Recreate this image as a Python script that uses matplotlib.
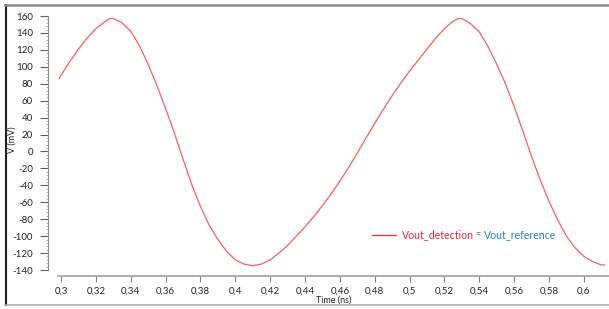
import matplotlib
matplotlib.use("Agg")
import matplotlib.pyplot as plt
from matplotlib.lines import Line2D
from matplotlib.ticker import FixedLocator, MultipleLocator, FuncFormatter

plt.rcParams['font.family'] = ['Lato', 'DejaVu Sans']

# time (ns) and voltage (mV)
time_ns = [0.299, 0.300, 0.305, 0.310, 0.315, 0.320, 0.325, 0.328, 0.330, 0.335,
           0.340, 0.345, 0.350, 0.355, 0.360, 0.365, 0.370, 0.375, 0.380, 0.385,
           0.390, 0.395, 0.400, 0.405, 0.410, 0.415, 0.420, 0.425, 0.430, 0.435,
           0.440, 0.445, 0.450, 0.455, 0.460, 0.465, 0.470, 0.475, 0.480, 0.485,
           0.490, 0.495, 0.500, 0.505, 0.510, 0.515, 0.520, 0.525, 0.528, 0.530,
           0.535, 0.540, 0.545, 0.550, 0.555, 0.560, 0.565, 0.570, 0.575, 0.580,
           0.585, 0.590, 0.595, 0.600, 0.605, 0.610, 0.612]
vout_mv = [86, 90, 106, 121, 134, 145, 153, 157, 157, 152,
           142, 125, 103, 78, 51, 22, -9, -39, -65, -87,
           -104, -118, -128, -133, -135, -133, -128, -120, -111, -100,
           -89, -77, -64, -50, -35, -19, -2, 16, 33, 50,
           66, 81, 95, 108, 121, 134, 145, 154, 157, 157,
           151, 141, 124, 103, 80, 53, 24, -6, -34, -59,
           -81, -100, -114, -124, -130, -134, -134]

x_ticks = [0.30, 0.32, 0.34, 0.36, 0.38, 0.40, 0.42, 0.44, 0.46, 0.48,
           0.50, 0.52, 0.54, 0.56, 0.58, 0.60]
y_ticks = list(range(-140, 161, 20))

W, H = 609, 309
fig = plt.figure(figsize=(W / 100, H / 100), dpi=100)
ax = fig.add_axes([58 / W, 1 - 270 / H, (609 - 58) / W, (270 - 16) / H])

ax.plot(time_ns, vout_mv, color='#f0605f', lw=0.9)

ax.set_xlim(0.3 - 3 / 1743, 0.3 + 548 / 1743)
ax.set_ylim(-140, 160)

for s in ['top', 'right']:
    ax.spines[s].set_visible(False)
ax.spines['left'].set_position(('outward', 7))
ax.spines['bottom'].set_position(('outward', 4))
ax.spines['left'].set_color('#8c8c8c')
ax.spines['bottom'].set_color('#a0a0a0')
ax.spines['bottom'].set_linewidth(1.2)

ax.xaxis.set_major_locator(FixedLocator(x_ticks))
ax.xaxis.set_major_formatter(FuncFormatter(lambda v, p: f"{round(v, 2):g}".replace('.', ',')))
ax.yaxis.set_major_locator(FixedLocator(y_ticks))
ax.yaxis.set_major_formatter(FuncFormatter(lambda v, p: str(int(round(v)))))
ax.yaxis.set_minor_locator(MultipleLocator(4))

ax.tick_params(axis='x', length=4, color='#808080', labelsize=7, labelcolor='#222222', pad=4)
ax.tick_params(axis='y', length=6, color='#606060', labelsize=7, labelcolor='#222222', pad=5)
ax.tick_params(axis='y', which='minor', length=1.5, color='#a0a0a0')

ax.set_xlabel('Time (ns)', fontsize=6.5, color='#222222', labelpad=0)


def fx(px):
    return px / W


def fy(py):
    return 1 - py / H


fig.text(fx(12), fy(140), 'V (mV)', fontsize=6.5, color='#222222',
         rotation=90, ha='center', va='center')

# legend drawn by hand: red line + coloured text
fig.add_artist(Line2D([fx(372), fx(396)], [fy(235), fy(235)], color='#ee3333', lw=0.9))
fig.text(fx(402), fy(235), 'Vout_detection', color='#e8283a', fontsize=7.6, va='center')
fig.text(fx(475), fy(235), '=', color='#666666', fontsize=6.5, va='center')
fig.text(fx(484), fy(235), 'Vout_reference', color='#2a7bc4', fontsize=7.6, va='center')

# outer frame
fig.add_artist(Line2D([fx(6), fx(6)], [fy(5), fy(305)], color='#202020', lw=1.5))
fig.add_artist(Line2D([fx(5), fx(609)], [fy(5), fy(5)], color='#8a8a8a', lw=1.8))
fig.add_artist(Line2D([fx(5), fx(609)], [fy(305), fy(305)], color='#b0b0b0', lw=1.2))

fig.savefig('out.png', dpi=100)
